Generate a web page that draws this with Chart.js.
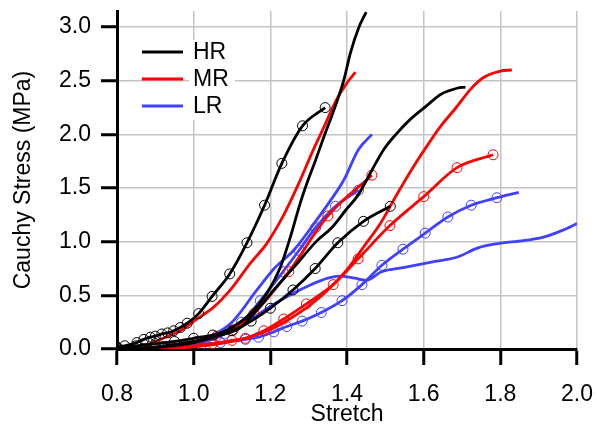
<!DOCTYPE html>
<html>
<head>
<meta charset="utf-8">
<script src="https://cdn.jsdelivr.net/npm/chart.js@4"></script>
<style>
  body { margin: 0; background: #fff; }
</style>
</head>
<body>
<canvas id="myChart" width="597" height="425"></canvas>
<script>
// series names (legend) and colours
const seriesNames = ['HR', 'MR', 'LR'];
const seriesColors = ['#000000', '#ff0000', '#4040ff'];

// axis ticks
const xTicks = [0.8, 1.0, 1.2, 1.4, 1.6, 1.8, 2.0];
const yTicks = [0.0, 0.5, 1.0, 1.5, 2.0, 2.5, 3.0];

// HR curves  [stretch, stress]
const hr1 = [[0.80,0.02],[0.82,0.03],[0.852,0.06],[0.87,0.09],[0.887,0.11],[0.90,0.12],[0.917,0.14],[0.932,0.15],
  [0.948,0.17],[0.965,0.20],[0.983,0.24],[1.013,0.33],[1.048,0.49],[1.094,0.70],[1.139,0.99],[1.185,1.34],
  [1.23,1.73],[1.284,2.08],[1.343,2.25]];
const hr2 = [[0.82,0.0],[0.9,0.02],[1.0,0.07],[1.05,0.12],[1.10,0.20],[1.148,0.33],[1.191,0.52],[1.226,0.76],
  [1.252,1.04],[1.278,1.36],[1.298,1.57],[1.318,1.76],[1.34,1.98],[1.36,2.17],[1.378,2.35],[1.392,2.51],
  [1.409,2.76],[1.43,2.99],[1.45,3.14]];
const hr3 = [[0.83,0.0],[0.92,0.02],[1.0,0.06],[1.06,0.12],[1.122,0.20],[1.157,0.33],[1.209,0.55],[1.261,0.76],
  [1.322,1.01],[1.36,1.13],[1.398,1.30],[1.426,1.42],[1.452,1.58],[1.47,1.70],[1.496,1.86],[1.53,2.01],
  [1.565,2.14],[1.609,2.27],[1.643,2.37],[1.687,2.43],[1.709,2.44]];
const hr4 = [[0.80,0.01],[0.85,0.03],[0.90,0.05],[0.95,0.07],[1.00,0.10],[1.05,0.13],[1.10,0.17],[1.15,0.26],
  [1.20,0.38],[1.259,0.55],[1.317,0.75],[1.376,0.99],[1.443,1.19],[1.513,1.33]];

// MR curves
const mr1 = [[0.86,0.0],[0.92,0.10],[0.965,0.17],[1.009,0.28],[1.052,0.39],[1.10,0.57],[1.148,0.80],[1.19,0.98],
  [1.235,1.25],[1.275,1.55],[1.31,1.84],[1.34,2.07],[1.372,2.32],[1.40,2.48],[1.422,2.58]];
const mr2 = [[0.87,0.0],[0.92,0.02],[0.97,0.04],[1.01,0.07],[1.06,0.12],[1.104,0.18],[1.157,0.33],[1.248,0.72],
  [1.350,1.24],[1.465,1.62]];
const mr3 = [[0.88,0.0],[1.0,0.02],[1.1,0.07],[1.2,0.18],[1.25,0.28],[1.30,0.40],[1.35,0.55],[1.40,0.74],
  [1.443,0.95],[1.487,1.17],[1.53,1.44],[1.57,1.68],[1.61,1.90],[1.643,2.07],[1.687,2.26],[1.722,2.42],
  [1.756,2.53],[1.80,2.59],[1.83,2.60]];
const mr4 = [[0.88,0.0],[0.95,0.01],[1.0,0.03],[1.05,0.05],[1.10,0.08],[1.135,0.10],[1.183,0.17],[1.235,0.28],
  [1.294,0.42],[1.364,0.60],[1.429,0.84],[1.512,1.15],[1.600,1.42],[1.687,1.69],[1.781,1.81]];

// LR curves
const lr1 = [[0.88,0.0],[0.95,0.02],[1.0,0.06],[1.05,0.13],[1.10,0.25],[1.165,0.55],[1.21,0.75],[1.261,0.92],
  [1.31,1.15],[1.358,1.39],[1.391,1.57],[1.43,1.86],[1.465,2.0]];
const lr2 = [[0.88,0.0],[0.93,0.01],[0.98,0.03],[1.03,0.07],[1.08,0.14],[1.125,0.25],[1.174,0.45],[1.233,0.72],
  [1.275,0.92],[1.318,1.13],[1.37,1.33],[1.43,1.48]];
const lr3 = [[0.87,0.0],[0.92,0.01],[0.97,0.02],[1.02,0.04],[1.07,0.06],[1.135,0.09],[1.169,0.11],[1.209,0.16],
  [1.243,0.21],[1.283,0.26],[1.333,0.34],[1.387,0.45],[1.439,0.60],[1.491,0.78],[1.546,0.93],[1.604,1.08],
  [1.663,1.23],[1.724,1.34],[1.791,1.41],[1.848,1.46]];
const lr4 = [[0.88,0.0],[0.95,0.02],[1.0,0.05],[1.05,0.10],[1.10,0.18],[1.15,0.28],[1.21,0.42],[1.26,0.52],
  [1.30,0.59],[1.35,0.66],[1.38,0.68],[1.42,0.66],[1.45,0.64],[1.49,0.72],[1.55,0.76],[1.62,0.81],[1.69,0.86],
  [1.74,0.94],[1.79,0.98],[1.86,1.01],[1.91,1.04],[1.965,1.11],[2.0,1.17]];

function curve(points, group, circles, lastCircle = true) {
  const color = seriesColors[group];
  return {
    label: seriesNames[group],
    data: points.map(p => ({ x: p[0], y: p[1] })),
    borderColor: color,
    backgroundColor: 'transparent',
    borderWidth: 2.8,
    cubicInterpolationMode: 'monotone',
    pointRadius: c => (!circles || (!lastCircle && c.dataIndex === points.length - 1)) ? 0 : 5,
    pointBorderWidth: 1,
    pointBorderColor: color,
    pointBackgroundColor: 'transparent',
    pointHoverRadius: 0,
    fill: false
  };
}

const datasets = [
  curve(hr1, 0, true), curve(hr2, 0, false), curve(hr3, 0, false), curve(hr4, 0, true),
  curve(mr1, 1, false), curve(mr2, 1, true), curve(mr3, 1, false), curve(mr4, 1, true),
  curve(lr1, 2, false), curve(lr2, 2, true), curve(lr3, 2, true, false), curve(lr4, 2, false)
];

const FONT = '"Liberation Sans", Arial, sans-serif';
const FSIZE = 23;

// legend drawn inside the plot, top-left
const inlineLegend = {
  id: 'inlineLegend',
  afterDatasetsDraw(chart) {
    const c = chart.ctx;
    c.save();
    c.fillStyle = '#fff';
    c.fillRect(189, 40, 46, 80);
    seriesNames.forEach((name, i) => {
      const y = 52 + i * 27;
      c.strokeStyle = seriesColors[i];
      c.lineWidth = 3;
      c.beginPath();
      c.moveTo(142, y);
      c.lineTo(183, y);
      c.stroke();
      c.fillStyle = '#000';
      c.font = FSIZE + 'px ' + FONT;
      c.textBaseline = 'middle';
      c.textAlign = 'left';
      c.fillText(name, 193, y + 1);
    });
    c.restore();
  }
};

const onlyTicks = (list) => (scale) => {
  scale.ticks = list.map(v => ({ value: v }));
};

new Chart(document.getElementById('myChart'), {
  type: 'line',
  data: { datasets },
  plugins: [inlineLegend],
  options: {
    responsive: false,
    animation: false,
    events: [],
    layout: { padding: { top: 11, right: 20, left: 0, bottom: 0 } },
    plugins: { legend: { display: false }, tooltip: { enabled: false } },
    scales: {
      x: {
        type: 'linear',
        min: 0.8,
        max: 2.0,
        afterBuildTicks: onlyTicks(xTicks),
        afterFit: (s) => { s.height = 76; s.paddingLeft = 0; s.paddingRight = 0; },
        border: { color: '#000', width: 3 },
        grid: { color: '#c4c4c4', lineWidth: 1.5, tickColor: '#000', tickWidth: 3, tickLength: 16 },
        ticks: { color: '#000', font: { family: FONT, size: FSIZE }, padding: 16, maxRotation: 0,
                 callback: v => v.toFixed(1) },
        title: { display: true, text: 'Stretch', color: '#000',
                 font: { family: FONT, size: FSIZE, lineHeight: 0.9 }, padding: { top: 0, bottom: 0 } }
      },
      y: {
        type: 'linear',
        min: 0,
        max: 3.15,
        afterBuildTicks: onlyTicks(yTicks),
        afterFit: (s) => { s.width = 117; s.paddingTop = 0; s.paddingBottom = 0; },
        border: { color: '#000', width: 3 },
        grid: { color: '#c4c4c4', lineWidth: 1.5, tickColor: '#000', tickWidth: 3, tickLength: 16 },
        ticks: { color: '#000', font: { family: FONT, size: FSIZE }, padding: 10,
                 callback: v => v.toFixed(1) },
        title: { display: true, text: 'Cauchy Stress (MPa)', color: '#000',
                 font: { family: FONT, size: FSIZE, lineHeight: 1.0 }, padding: { top: 12, bottom: 0 } }
      }
    }
  }
});
</script>
</body>
</html>
